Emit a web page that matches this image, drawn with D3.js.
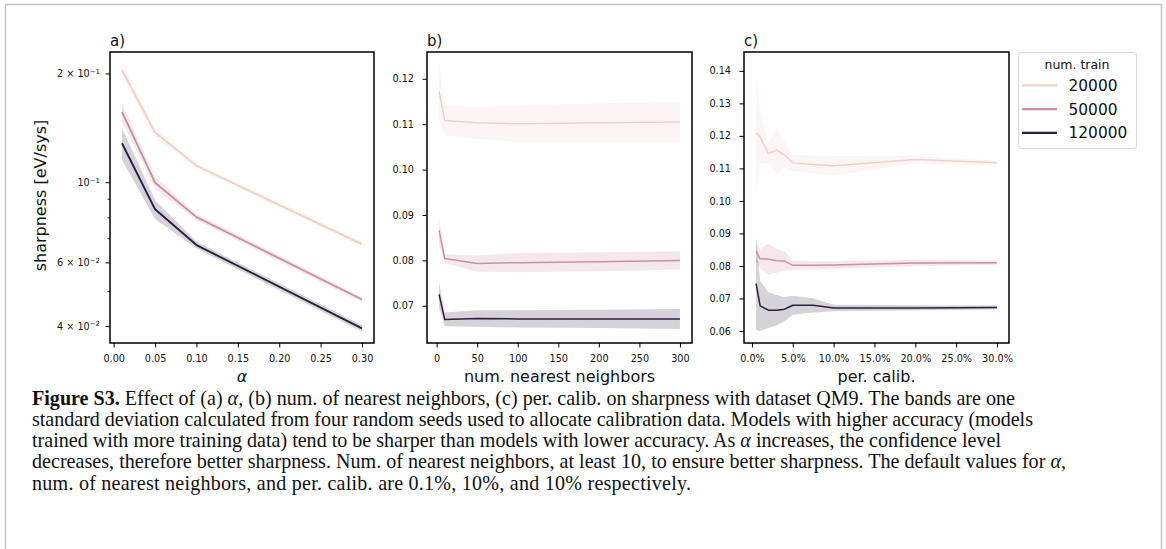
<!DOCTYPE html>
<html>
<head>
<meta charset="utf-8">
<script src="https://cdn.jsdelivr.net/npm/d3@7"></script>
<style>
  body { margin: 0; background: #fff; }
  svg { display: block; }
</style>
</head>
<body>
<div id="chart"></div>
<script>
// ---------------------------------- DATA ---------------------------------- //

let train_sizes = ['20000', '50000', '120000'];

// a) alpha
let alpha_x = [0.01, 0.05, 0.1, 0.3];
let alpha_mean = [
  [0.205, 0.1376, 0.1114, 0.0676],
  [0.157, 0.100, 0.0803, 0.0475],
  [0.1286, 0.0844, 0.0672, 0.0395]
];
let alpha_std = [
  [0.009, 0.004, 0.002, 0.0012],
  [0.009, 0.004, 0.0015, 0.0008],
  [0.013, 0.005, 0.0015, 0.0008]
];

// b) num. nearest neighbors
let nn_x = [3, 10, 50, 100, 200, 300];
let nn_mean = [
  [0.1172, 0.1108, 0.1103, 0.1101, 0.1103, 0.1105],
  [0.0866, 0.0804, 0.0793, 0.0795, 0.0797, 0.0800],
  [0.0725, 0.0670, 0.0672, 0.0671, 0.0671, 0.0671]
];
let nn_std = [
  [0.0062, 0.0033, 0.0035, 0.0040, 0.0043, 0.0044],
  [0.0030, 0.0010, 0.0018, 0.0021, 0.0021, 0.0020],
  [0.0028, 0.0015, 0.0018, 0.0019, 0.0020, 0.0022]
];

// c) per. calib. (percent)
let calib_x = [0.5, 1, 2, 3, 4, 5, 7.5, 10, 20, 30];
let calib_mean = [
  [0.1210, 0.1197, 0.1146, 0.1156, 0.1141, 0.1117, 0.1112, 0.1108, 0.1127, 0.1117],
  [0.0845, 0.0822, 0.0821, 0.0816, 0.0815, 0.0802, 0.0802, 0.0803, 0.0809, 0.0810],
  [0.0746, 0.0677, 0.0664, 0.0664, 0.0667, 0.0679, 0.0679, 0.0671, 0.0671, 0.0672]
];
let calib_std = [
  [0.0184, 0.0080, 0.0030, 0.0074, 0.0040, 0.0025, 0.0027, 0.0030, 0.0012, 0.0007],
  [0.0032, 0.0030, 0.0047, 0.0037, 0.0030, 0.0015, 0.0013, 0.0012, 0.0010, 0.0006],
  [0.0143, 0.0077, 0.0055, 0.0047, 0.0037, 0.0029, 0.0022, 0.0010, 0.0008, 0.0006]
];

let alpha_ticks = [0, 0.05, 0.1, 0.15, 0.2, 0.25, 0.3];
let nn_ticks = [0, 50, 100, 150, 200, 250, 300];
let calib_ticks = [0, 5, 10, 15, 20, 25, 30];
let alpha_ytick_major = [[0.2, '2', '-1'], [0.1, '', '-1'], [0.06, '6', '-2'], [0.04, '4', '-2']];
let alpha_ytick_minor = [0.05, 0.07, 0.08, 0.09];
let nn_yticks = [0.07, 0.08, 0.09, 0.10, 0.11, 0.12];
let calib_yticks = [0.06, 0.07, 0.08, 0.09, 0.10, 0.11, 0.12, 0.13, 0.14];

let caption_lines = [
  [['b', 'Figure S3.'], ['n', ' Effect of (a) '], ['i', 'α'], ['n', ', (b) num. of nearest neighbors, (c) per. calib. on sharpness with dataset QM9. The bands are one']],
  [['n', 'standard deviation calculated from four random seeds used to allocate calibration data. Models with higher accuracy (models']],
  [['n', 'trained with more training data) tend to be sharper than models with lower accuracy. As '], ['i', 'α'], ['n', ' increases, the confidence level']],
  [['n', 'decreases, therefore better sharpness. Num. of nearest neighbors, at least 10, to ensure better sharpness. The default values for '], ['i', 'α'], ['n', ',']],
  [['n', 'num. of nearest neighbors, and per. calib. are 0.1%, 10%, and 10% respectively.']]
];
let caption_widths = [983, 1001, 969, 1034, 659];

// ---------------------------------- SETTINGS ---------------------------------- //

let img_width = 1166;
let img_height = 549;
let plot_top = 52;
let plot_bottom = 343;
let panel_x = [[110, 374], [427, 692], [744, 1009]];
let colors = ['#edd1cb', '#cd8ea1', '#2d1e3e'];
let font = 'DejaVu Sans, sans-serif';
let serif = "'Liberation Serif', 'Times New Roman', serif";
let tick_font_size = 9.7;
let label_font_size = 16;

// ---------------------------------- CORE IMAGE ---------------------------------- //

let svg = d3.select('#chart')
  .append('svg')
  .attr('width', img_width)
  .attr('height', img_height);

// page border
svg.append('path')
  .attr('d', 'M5.5,549 V4.5 H1161.5 V549')
  .attr('fill', 'none')
  .attr('stroke', '#c4c4c4')
  .attr('stroke-width', 1.5);

function drawPanel(idx, xs, means, stds, xScale, yScale, label) {
  let g = svg.append('g');

  means.forEach((series, s) => {
    let pts = xs.map((x, i) => ({ x: x, m: series[i], sd: stds[s][i] }));
    let area = d3.area()
      .x(d => xScale(d.x))
      .y0(d => yScale(d.m - d.sd))
      .y1(d => yScale(d.m + d.sd));
    g.append('path')
      .attr('d', area(pts))
      .attr('fill', colors[s])
      .attr('fill-opacity', 0.2);
  });

  means.forEach((series, s) => {
    let pts = xs.map((x, i) => ({ x: x, m: series[i] }));
    let line = d3.line().x(d => xScale(d.x)).y(d => yScale(d.m));
    g.append('path')
      .attr('d', line(pts))
      .attr('fill', 'none')
      .attr('stroke', colors[s])
      .attr('stroke-width', idx === 0 ? 1.9 : 1.5)
      .attr('stroke-linejoin', 'round');
  });

  let [x0, x1] = panel_x[idx];
  g.append('rect')
    .attr('x', x0).attr('y', plot_top)
    .attr('width', x1 - x0).attr('height', plot_bottom - plot_top)
    .attr('fill', 'none')
    .attr('stroke', '#000')
    .attr('stroke-width', 1.5);

  svg.append('text')
    .attr('x', x0)
    .attr('y', 46)
    .attr('font-family', font)
    .attr('font-size', 15)
    .attr('fill', '#111')
    .text(label);
  return g;
}

function styleAxis(sel) {
  sel.select('.domain').remove();
  sel.selectAll('line').attr('stroke', '#000').attr('stroke-width', 1);
  sel.selectAll('text')
    .attr('font-family', font)
    .attr('font-size', tick_font_size)
    .attr('fill', '#111');
}

function xPad(xs, range) {
  let [lo, hi] = d3.extent(xs);
  let m = (hi - lo) * 0.05;
  return d3.scaleLinear().domain([lo - m, hi + m]).range(range);
}

function axisLabel(x, text, italic) {
  svg.append('text')
    .attr('x', x)
    .attr('y', 382)
    .attr('text-anchor', 'middle')
    .attr('font-family', font)
    .attr('font-style', italic ? 'italic' : 'normal')
    .attr('font-size', label_font_size)
    .attr('fill', '#111')
    .text(text);
}

// ---------------------------------- PANEL A ---------------------------------- //

let xa = xPad(alpha_x, panel_x[0]);
let ya = d3.scaleLog().domain([0.036, 0.230]).range([plot_bottom, plot_top]);
drawPanel(0, alpha_x, alpha_mean, alpha_std, xa, ya, 'a)');

svg.append('g')
  .attr('transform', `translate(0,${plot_bottom})`)
  .call(d3.axisBottom(xa).tickValues(alpha_ticks).tickFormat(d3.format('.2f')).tickSize(4.5).tickPadding(8))
  .call(styleAxis);

let ga = svg.append('g').attr('transform', `translate(${panel_x[0][0]},0)`);
ga.selectAll('line.minor')
  .data(alpha_ytick_minor)
  .enter()
  .append('line')
  .attr('x1', -2.5).attr('x2', 0)
  .attr('y1', d => ya(d)).attr('y2', d => ya(d))
  .attr('stroke', '#000').attr('stroke-width', 0.8);
ga.selectAll('line.major')
  .data(alpha_ytick_major)
  .enter()
  .append('line')
  .attr('x1', -4.5).attr('x2', 0)
  .attr('y1', d => ya(d[0])).attr('y2', d => ya(d[0]))
  .attr('stroke', '#000').attr('stroke-width', 1);
let alabels = ga.selectAll('text.lab')
  .data(alpha_ytick_major)
  .enter()
  .append('text')
  .attr('x', -10)
  .attr('y', d => ya(d[0]))
  .attr('dy', '0.32em')
  .attr('text-anchor', 'end')
  .attr('font-family', font)
  .attr('font-size', tick_font_size)
  .attr('fill', '#111');
alabels.append('tspan').text(d => d[1] ? `${d[1]} \u00d7 10` : '10');
alabels.append('tspan')
  .attr('dy', '-0.45em')
  .attr('font-size', tick_font_size * 0.72)
  .text(d => d[2].replace('-', '\u2212'));

axisLabel((panel_x[0][0] + panel_x[0][1]) / 2, 'α', true);

svg.append('text')
  .attr('transform', `translate(46,${(plot_top + plot_bottom) / 2 - 2}) rotate(-90)`)
  .attr('text-anchor', 'middle')
  .attr('font-family', font)
  .attr('font-size', label_font_size)
  .attr('fill', '#111')
  .text('sharpness [eV/sys]');

// ---------------------------------- PANEL B ---------------------------------- //

let xb = xPad(nn_x, panel_x[1]);
let yb = d3.scaleLinear().domain([0.0618, 0.1259]).range([plot_bottom, plot_top]);
drawPanel(1, nn_x, nn_mean, nn_std, xb, yb, 'b)');

svg.append('g')
  .attr('transform', `translate(0,${plot_bottom})`)
  .call(d3.axisBottom(xb).tickValues(nn_ticks).tickSize(4.5).tickPadding(8))
  .call(styleAxis);
svg.append('g')
  .attr('transform', `translate(${panel_x[1][0]},0)`)
  .call(d3.axisLeft(yb).tickValues(nn_yticks).tickFormat(d3.format('.2f')).tickSize(4.5).tickPadding(8.5))
  .call(styleAxis);

axisLabel((panel_x[1][0] + panel_x[1][1]) / 2, 'num. nearest neighbors', false);

// ---------------------------------- PANEL C ---------------------------------- //

let xc = xPad(calib_x, panel_x[2]);
let yc = d3.scaleLinear().domain([0.0563, 0.1458]).range([plot_bottom, plot_top]);
drawPanel(2, calib_x, calib_mean, calib_std, xc, yc, 'c)');

svg.append('g')
  .attr('transform', `translate(0,${plot_bottom})`)
  .call(d3.axisBottom(xc).tickValues(calib_ticks).tickFormat(d => `${d.toFixed(1)}%`).tickSize(4.5).tickPadding(8))
  .call(styleAxis);
svg.append('g')
  .attr('transform', `translate(${panel_x[2][0]},0)`)
  .call(d3.axisLeft(yc).tickValues(calib_yticks).tickFormat(d3.format('.2f')).tickSize(4.5).tickPadding(8.5))
  .call(styleAxis);

axisLabel((panel_x[2][0] + panel_x[2][1]) / 2, 'per. calib.', false);

// ---------------------------------- LEGEND ---------------------------------- //

let legend = svg.append('g').attr('transform', 'translate(1018,52)');
legend.append('rect')
  .attr('x', 0.5).attr('y', 0.5)
  .attr('width', 118).attr('height', 96)
  .attr('rx', 3)
  .attr('fill', '#fff')
  .attr('stroke', '#d9d9d9')
  .attr('stroke-width', 1);
legend.append('text')
  .attr('x', 59)
  .attr('y', 16.5)
  .attr('text-anchor', 'middle')
  .attr('font-family', font)
  .attr('font-size', 12.5)
  .attr('fill', '#111')
  .text('num. train');
train_sizes.forEach((t, i) => {
  let yy = 33.3 + i * 23.8;
  legend.append('line')
    .attr('x1', 4).attr('x2', 39)
    .attr('y1', yy).attr('y2', yy)
    .attr('stroke', colors[i])
    .attr('stroke-width', 2.3);
  legend.append('text')
    .attr('x', 50.5)
    .attr('y', yy)
    .attr('dy', '0.36em')
    .attr('font-family', font)
    .attr('font-size', 15.4)
    .attr('fill', '#111')
    .text(t);
});

// ---------------------------------- CAPTION ---------------------------------- //

let caption = svg.append('g');
let base_size = 17.6;
let caption_texts = caption_lines.map((parts, i) => {
  let t = caption.append('text')
    .attr('x', 32)
    .attr('y', 404.5 + i * 21.25)
    .attr('font-family', serif)
    .attr('font-size', base_size)
    .attr('fill', '#111');
  parts.forEach(p => {
    let sp = t.append('tspan').text(p[1]);
    if (p[0] === 'b') sp.attr('font-weight', 'bold');
    if (p[0] === 'i') sp.attr('font-style', 'italic');
  });
  return t;
});
// fit the font size on the first line, then even out the rest
let fit = caption_widths[0] / caption_texts[0].node().getComputedTextLength();
caption_texts.forEach((t, i) => {
  t.attr('font-size', base_size * fit);
  let w = t.node().getComputedTextLength();
  if (Math.abs(w - caption_widths[i]) / caption_widths[i] < 0.04) {
    t.attr('textLength', caption_widths[i]).attr('lengthAdjust', 'spacing');
  }
});
</script>
</body>
</html>
